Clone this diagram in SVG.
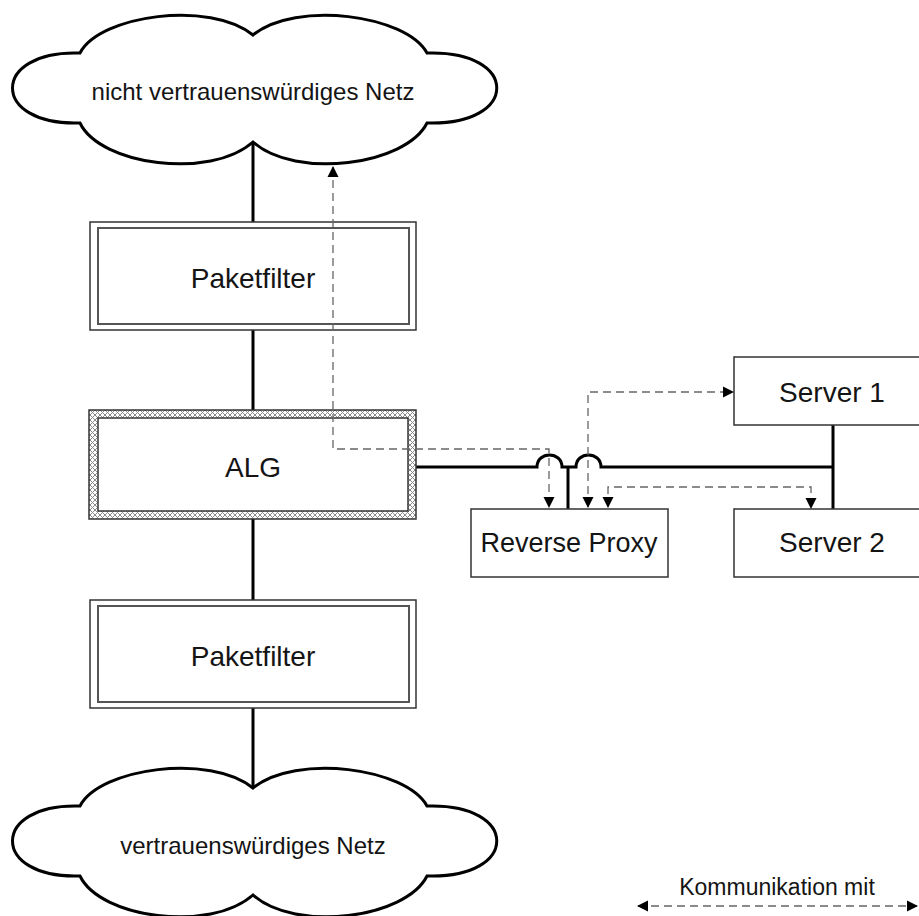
<svg xmlns="http://www.w3.org/2000/svg" width="919" height="916" viewBox="0 0 919 916">
<style>
text{font-family:"Liberation Sans",Arial,sans-serif;fill:#141414;text-anchor:middle}
.cloud{fill:#fff;stroke:#000;stroke-width:3}
.box{fill:#fff;stroke:#333;stroke-width:1.5}
.inner{fill:none;stroke:#555;stroke-width:2}
.link{fill:none;stroke:#000;stroke-width:3}
.comm{fill:none;stroke:#666;stroke-width:1.3;stroke-dasharray:8 5}
</style>
<defs>
<pattern id="hatch" width="5" height="5" patternUnits="userSpaceOnUse">
<rect width="5" height="5" fill="#fff"/>
<path d="M0,0 L5,5 M5,0 L0,5" stroke="#8a8a8a" stroke-width="1"/>
</pattern>
<marker id="ah" markerUnits="userSpaceOnUse" markerWidth="12" markerHeight="12" refX="10" refY="5.5" orient="auto-start-reverse" viewBox="0 0 12 11">
<path d="M0,0 L11,5.5 L0,11 Z" fill="#000"/>
</marker>
<path id="cloudshape" d="M80,53 C100,15 210,0 253,35 C296,0 406,15 427,53 C520,50 520,126 427,123 C406,165 296,180 253,142 C210,180 100,165 80,123 C-10,126 -10,50 80,53 Z"/>
</defs>

<g id="connectors">
<path class="link" d="M253,142 V222 M253,330 V410 M253,519 V600 M253,708 V788"/>
<path class="link" d="M416,467 L537,467 C537,451 562,451 562,467 L576,467 C576,451 601,451 601,467 L833,467 M833,425 V509 M568,467 V509"/>
</g>

<g id="cloud-untrusted">
<use href="#cloudshape" class="cloud"/>
<text x="253" y="100" font-size="24">nicht vertrauenswürdiges Netz</text>
</g>

<g id="paketfilter-1">
<rect class="box" x="90" y="222" width="326" height="108"/>
<rect class="inner" x="98" y="228" width="311" height="96"/>
<text x="253" y="288" font-size="28">Paketfilter</text>
</g>

<g id="alg">
<path d="M89,410 H416 V519 H89 Z M98,418 V511 H408 V418 Z" fill="url(#hatch)" fill-rule="evenodd"/>
<rect x="89" y="410" width="327" height="109" fill="none" stroke="#333" stroke-width="1.5"/>
<rect x="98" y="418" width="310" height="93" fill="none" stroke="#333" stroke-width="1.5"/>
<text x="253" y="477" font-size="28">ALG</text>
</g>

<g id="paketfilter-2">
<rect class="box" x="90" y="600" width="326" height="108"/>
<rect class="inner" x="98" y="606" width="311" height="96"/>
<text x="253" y="666" font-size="28">Paketfilter</text>
</g>

<g id="cloud-trusted">
<use href="#cloudshape" class="cloud" transform="translate(0,753)"/>
<text x="253" y="854" font-size="24">vertrauenswürdiges Netz</text>
</g>

<g id="server-1">
<rect class="box" x="734" y="357" width="198" height="68"/>
<text x="832" y="402" font-size="28">Server 1</text>
</g>

<g id="server-2">
<rect class="box" x="734" y="509" width="198" height="68"/>
<text x="832" y="552" font-size="28">Server 2</text>
</g>

<g id="reverse-proxy">
<rect class="box" x="471" y="509" width="197" height="68"/>
<text x="569" y="552" font-size="27">Reverse Proxy</text>
</g>

<g id="communication">
<path class="comm" d="M333,167 V449 H549 V507" marker-start="url(#ah)" marker-end="url(#ah)"/>
<path class="comm" d="M588,507 V392 H733" marker-start="url(#ah)" marker-end="url(#ah)"/>
<path class="comm" d="M608,507 V487 H811 V508" marker-start="url(#ah)" marker-end="url(#ah)"/>
</g>

<g id="legend">
<path class="comm" d="M638,906 H917" marker-start="url(#ah)" marker-end="url(#ah)"/>
<text x="777" y="895" font-size="23">Kommunikation mit</text>
</g>
</svg>
